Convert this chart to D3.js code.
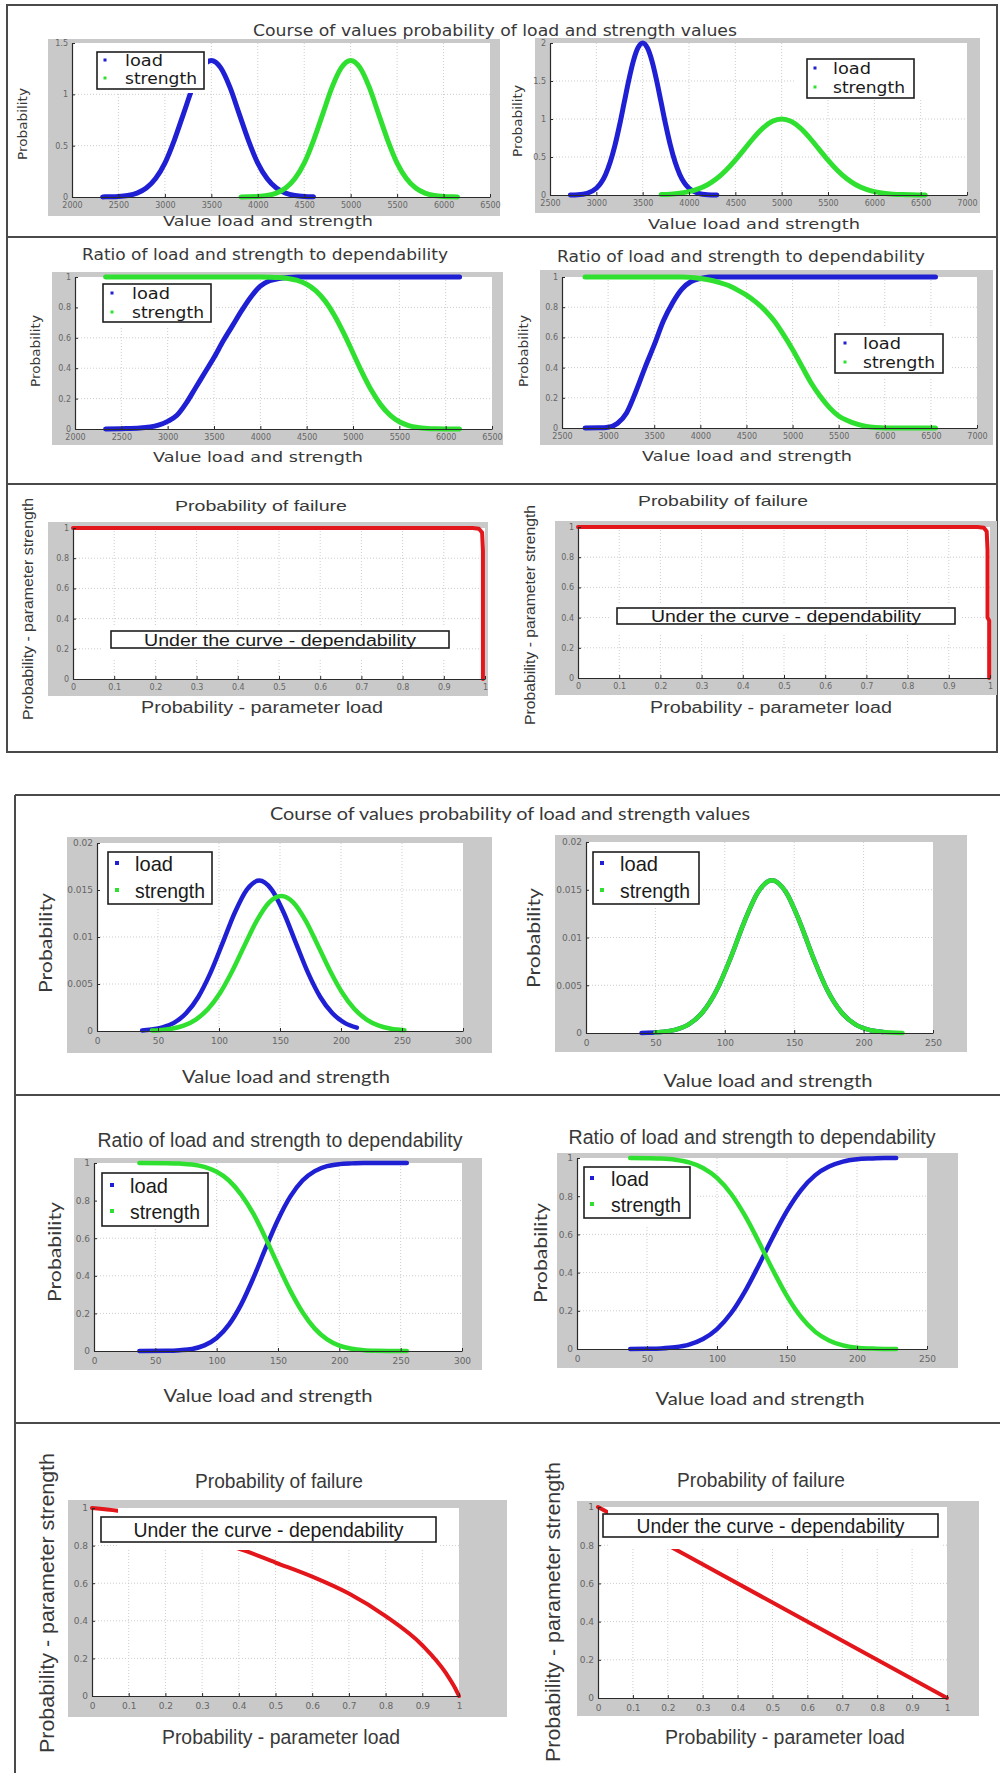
<!DOCTYPE html>
<html><head><meta charset="utf-8">
<script src="https://cdn.jsdelivr.net/npm/d3@7"></script>
<style>body{margin:0;background:#fff;} svg{display:block;}</style>
</head><body>
<svg id="chart" width="1000" height="1773"></svg>
<script>
// ---------------- DATA ----------------
const legendLabels = ["load", "strength"];

// Panel 1: density, case A (x 2000..6500)
const p1LoadX = [2330,2400,2500,2600,2700,2800,2900,3000,3100,3200,3300,3400,3500,3600,3700,3800,3900,4000,4100,4200,4300,4400,4500,4600];
const p1LoadY = [0.001,0.002,0.005,0.015,0.038,0.087,0.18,0.33,0.55,0.81,1.07,1.26,1.33,1.26,1.07,0.81,0.55,0.33,0.18,0.087,0.038,0.015,0.005,0.002];
const p1StrX = [3820,3900,4000,4100,4200,4300,4400,4500,4600,4700,4800,4900,5000,5100,5200,5300,5400,5500,5600,5700,5800,5900,6000,6100,6150];
const p1StrY = [0.001,0.002,0.005,0.015,0.038,0.087,0.18,0.33,0.55,0.81,1.07,1.26,1.33,1.26,1.07,0.81,0.55,0.33,0.18,0.087,0.038,0.015,0.005,0.002,0.001];

// Panel 2: density, case B (x 2500..7000)
const p2LoadX = [2720,2800,2900,3000,3050,3100,3150,3200,3250,3300,3350,3400,3450,3500,3550,3600,3650,3700,3750,3800,3850,3900,3950,4000,4100,4200,4300];
const p2LoadY = [0.001,0.004,0.022,0.088,0.159,0.271,0.433,0.649,0.916,1.213,1.51,1.765,1.938,2.0,1.938,1.765,1.51,1.213,0.916,0.649,0.433,0.271,0.159,0.088,0.022,0.004,0.001];
const p2StrX = [3700,3800,3900,4000,4100,4200,4300,4400,4500,4600,4700,4800,4900,5000,5100,5200,5300,5400,5500,5600,5700,5800,5900,6000,6100,6200,6300,6400,6500,6550];
const p2StrY = [0.005,0.011,0.023,0.044,0.080,0.135,0.216,0.325,0.458,0.607,0.755,0.882,0.969,1.0,0.969,0.882,0.755,0.607,0.458,0.325,0.216,0.135,0.080,0.044,0.023,0.011,0.005,0.002,0.001,0.0005];

// Panel 3: cumulative, case A
const p3LoadX = [2330,2500,2700,2900,3000,3100,3200,3300,3400,3500,3600,3700,3800,3900,4000,4100,4200,4300,4400,6150];
const p3LoadY = [0,0.002,0.006,0.025,0.05,0.09,0.17,0.27,0.37,0.47,0.58,0.68,0.78,0.87,0.94,0.975,0.99,0.997,1,1];
const p3StrX = [2330,4000,4100,4200,4300,4400,4500,4600,4700,4800,4900,5000,5100,5200,5300,5400,5500,5600,5700,5800,5900,6000,6150];
const p3StrY = [1,0.9996,0.9987,0.9962,0.9902,0.9772,0.9522,0.9088,0.8413,0.7475,0.6306,0.5,0.3694,0.2525,0.1587,0.0912,0.0478,0.0228,0.0098,0.0038,0.0013,0.0004,0];

// Panel 4: cumulative, case B
const p4LoadX = [2750,2900,3000,3100,3200,3300,3400,3500,3600,3700,3800,3900,4000,4100,6550];
const p4LoadY = [0,0.001,0.005,0.03,0.1,0.24,0.4,0.55,0.71,0.83,0.92,0.97,0.99,1,1];
const p4StrX = [2750,3800,4000,4100,4200,4300,4400,4500,4600,4700,4800,4900,5000,5100,5200,5300,5400,5500,5600,5700,5800,5900,6000,6550];
const p4StrY = [1,1,0.99,0.98,0.965,0.945,0.915,0.88,0.835,0.78,0.71,0.62,0.52,0.41,0.30,0.21,0.135,0.08,0.048,0.025,0.01,0.003,0,0];

// Panel 5 & 6: probability of failure (top block)
const p5X = [0,0.5,0.97,0.985,0.993,0.995,0.995];
const p5Y = [1,1,1,0.995,0.97,0.85,0];
const p6X = [0,0.5,0.97,0.985,0.992,0.994,0.994,0.998,0.998];
const p6Y = [1,1,1,0.995,0.97,0.85,0.4,0.38,0];

// Panel 7: density, case C (x 0..300)
const p7LoadX = [37,43,53,63,73,83,93,103,113,123,133,143,153,163,173,183,193,203,213];
const p7LoadY = [0.00006,0.00013,0.00036,0.00087,0.00188,0.00362,0.00618,0.00937,0.01261,0.01507,0.016,0.01507,0.01261,0.00937,0.00618,0.00362,0.00188,0.00087,0.00036];
const p7StrX = [45,51,61,71,81,91,101,111,121,131,141,151,161,171,181,191,201,211,221,231,241,252];
const p7StrY = [0.00005,0.00009,0.00024,0.00057,0.00122,0.00234,0.00407,0.00641,0.00912,0.01174,0.01366,0.01436,0.01366,0.01174,0.00912,0.00641,0.00407,0.00234,0.00122,0.00057,0.00024,0.00009];

// Panel 8: density, case D (x 0..250)
const p8LoadX = [40,44,54,64,74,84,94,104,114,124,134,144,154,164,174,184,194,204,214];
const p8LoadY = [0.00001,0.00002,0.0001,0.00032,0.0009,0.00217,0.00445,0.00779,0.01162,0.01477,0.016,0.01477,0.01162,0.00779,0.00445,0.00217,0.0009,0.00032,0.0001];
const p8StrX = [50,54,64,74,84,94,104,114,124,134,144,154,164,174,184,194,204,214,228];
const p8StrY = [0.00005,0.0001,0.00032,0.0009,0.00217,0.00445,0.00779,0.01162,0.01477,0.016,0.01477,0.01162,0.00779,0.00445,0.00217,0.0009,0.00032,0.0001,0.00001];

// Panel 9: cumulative, case C
const p9LoadX = [37,60,70,80,90,100,110,120,130,140,150,160,170,180,190,200,210,220,255];
const p9LoadY = [0,0.001,0.004,0.011,0.03,0.069,0.14,0.248,0.39,0.548,0.698,0.821,0.907,0.957,0.983,0.994,0.998,1,1];
const p9StrX = [37,60,70,80,90,100,110,120,130,140,150,160,170,180,190,200,210,220,230,240,255];
const p9StrY = [1,0.999,0.997,0.992,0.979,0.953,0.907,0.832,0.729,0.599,0.457,0.321,0.206,0.119,0.062,0.029,0.012,0.0045,0.0015,0.0004,0];

// Panel 10: cumulative, case D
const p10LoadX = [38,50,60,70,80,90,100,110,120,130,140,150,160,170,180,190,200,210,220,228];
const p10LoadY = [0,0.001,0.003,0.009,0.023,0.052,0.104,0.187,0.302,0.441,0.588,0.723,0.832,0.909,0.955,0.981,0.993,0.9975,1,1];
const p10StrX = [38,50,60,70,80,90,100,110,120,130,140,150,160,170,180,190,200,210,220,228];
const p10StrY = [1,0.999,0.997,0.991,0.977,0.948,0.896,0.813,0.698,0.559,0.412,0.277,0.168,0.091,0.045,0.019,0.007,0.0025,0,0];

// Panel 11 & 12: probability of failure (bottom block)
const p11X = [0,0.07,0.15,0.25,0.33,0.42,0.5,0.6,0.7,0.8,0.9,0.965,0.99,1];
const p11Y = [1,0.985,0.95,0.89,0.83,0.77,0.71,0.635,0.545,0.425,0.27,0.12,0.04,0];
const p12X = [0,0.25,0.5,0.75,1];
const p12Y = [1,0.75,0.5,0.25,0];

// Tick values
const xTicksA = [2000,2500,3000,3500,4000,4500,5000,5500,6000,6500];
const xTicksB = [2500,3000,3500,4000,4500,5000,5500,6000,6500,7000];
const yTicks15 = [0,0.5,1,1.5];
const yTicks2 = [0,0.5,1,1.5,2];
const yTicksCdf = [0,0.2,0.4,0.6,0.8,1];
const ticksProb = [0,0.1,0.2,0.3,0.4,0.5,0.6,0.7,0.8,0.9,1];
const xTicks300 = [0,50,100,150,200,250,300];
const xTicks250 = [0,50,100,150,200,250];
const yTicksPdf = [0,0.005,0.01,0.015,0.02];

// ---------------- DRAWING ----------------
const svg = d3.select("#chart");
const BLUE = "#1f1fd4", GREEN = "#30e030", RED = "#e3161b", GRAY = "#c9c9c9", INK = "#383838";
const FV = "'DejaVu Sans', Verdana, sans-serif";
const FA = "'Liberation Sans', Arial, sans-serif";
const FC = "Lato, 'Open Sans', sans-serif";

function txt(t) {
  const el = svg.append("text").text(t.s)
    .attr("font-family", t.f).attr("font-size", t.fs)
    .attr("fill", t.fill || INK)
    .attr("text-anchor", "middle").attr("dominant-baseline", "central");
  if (t.w) el.attr("textLength", t.w).attr("lengthAdjust", "spacingAndGlyphs");
  if (t.rot) el.attr("transform", `translate(${t.cx},${t.cy}) rotate(-90)`);
  else el.attr("x", t.cx).attr("y", t.cy);
  return el;
}

function rectOf(g, r, fill, stroke, sw) {
  return g.append("rect").attr("x", r[0]).attr("y", r[1])
    .attr("width", r[2] - r[0]).attr("height", r[3] - r[1])
    .attr("fill", fill).attr("stroke", stroke || "none").attr("stroke-width", sw || 0);
}

function drawPanel(p) {
  const g = svg.append("g");
  rectOf(g, p.gray, GRAY);
  const x = d3.scaleLinear().domain(p.xd).range(p.px);
  const y = d3.scaleLinear().domain(p.yd).range([p.py[1], p.py[0]]);
  rectOf(g, [p.px[0], p.py[0], p.px[1], p.py[1]], "#fff");

  // grid
  const grid = g.append("g").attr("stroke", "#cdcdcd").attr("stroke-width", 1).attr("stroke-dasharray", "1,2");
  grid.selectAll("line.v").data(p.xt.slice(1, -1)).join("line").attr("class", "v")
    .attr("x1", d => x(d)).attr("x2", d => x(d)).attr("y1", p.py[0]).attr("y2", p.py[1]);
  grid.selectAll("line.h").data(p.yt.slice(1, -1)).join("line").attr("class", "h")
    .attr("x1", p.px[0]).attr("x2", p.px[1]).attr("y1", d => y(d)).attr("y2", d => y(d));

  // legend background mask (under the curves unless it hides them in the original)
  if (p.mask && !p.maskAbove) rectOf(g, p.mask, "#fff");

  // series
  p.series.forEach(s => {
    const pts = s.x.map((v, i) => [v, s.y[i]]);
    g.append("path").datum(pts)
      .attr("d", d3.line().x(d => x(d[0])).y(d => y(d[1])).curve(s.curve || d3.curveMonotoneX))
      .attr("fill", "none").attr("stroke", s.c).attr("stroke-width", p.lw)
      .attr("stroke-linejoin", "round").attr("stroke-linecap", "round");
  });

  if (p.mask && p.maskAbove) rectOf(g, p.mask, "#fff");

  // axes
  const fmt = d3.format("~g");
  const ax = g.append("g").attr("transform", `translate(0,${p.py[1]})`)
    .call(d3.axisBottom(x).tickValues(p.xt).tickSizeInner(-3).tickSizeOuter(0).tickPadding(p.xpad).tickFormat(fmt));
  const ay = g.append("g").attr("transform", `translate(${p.px[0]},0)`)
    .call(d3.axisLeft(y).tickValues(p.yt).tickSizeInner(-3).tickSizeOuter(0).tickPadding(4).tickFormat(fmt));
  [ax, ay].forEach(a => {
    a.select(".domain").attr("stroke", "#2a2a2a").attr("stroke-width", 1.2);
    a.selectAll(".tick line").attr("stroke", "#2a2a2a");
    a.selectAll(".tick text").attr("fill", "#666").attr("font-size", p.tfs).attr("font-family", FV);
  });

  // legend
  if (p.legend) {
    const L = p.legend;
    rectOf(g, L.box, "#fff", "#1e1e1e", 1.6);
    [BLUE, GREEN].forEach((c, i) => {
      g.append("rect").attr("x", L.dotX - L.ds / 2).attr("y", L.rows[i] - L.ds / 2)
        .attr("width", L.ds).attr("height", L.ds).attr("fill", c);
      g.append("text").text(legendLabels[i]).attr("x", L.textX).attr("y", L.rows[i])
        .attr("dominant-baseline", "central").attr("font-family", L.f).attr("font-size", L.fs)
        .attr("fill", "#1a1a1a").attr("textLength", L.tl[i]).attr("lengthAdjust", "spacingAndGlyphs");
    });
  }
  // annotation box
  if (p.note) {
    const N = p.note;
    rectOf(g, N.box, "#fff", "#1e1e1e", 1.6);
    txt({s: "Under the curve - dependability", cx: (N.box[0] + N.box[2]) / 2, cy: (N.box[1] + N.box[3]) / 2 + 0.5,
         fs: N.fs, w: N.w, f: FA, fill: "#1a1a1a"});
  }
  (p.texts || []).forEach(txt);
}

// frames
const frames = svg.append("g").attr("stroke", "#4a4a4a").attr("stroke-width", 2).attr("fill", "none");
frames.append("rect").attr("x", 7).attr("y", 5).attr("width", 990).attr("height", 747);
[237, 484].forEach(yy => frames.append("line").attr("x1", 7).attr("x2", 997).attr("y1", yy).attr("y2", yy));
frames.append("line").attr("x1", 15).attr("x2", 15).attr("y1", 795).attr("y2", 1773);
[795, 1095, 1423].forEach(yy => frames.append("line").attr("x1", 15).attr("x2", 1000).attr("y1", yy).attr("y2", yy));

const VAL = "Value load and strength", PROB = "Probability";
const RATIO = "Ratio of load and strength to dependability", FAIL = "Probability of failure";
const PLOAD = "Probability - parameter load", PSTR = "Probability - parameter strength";

const topLeg = (box, dotX, textX, rows) => ({box, dotX, textX, rows, fs: 16, f: FV, tl: [38, 72], ds: 3});
const botLeg = (box, dotX, textX, rows) => ({box, dotX, textX, rows, fs: 21, f: FA, tl: [38, 70], ds: 4});

const panels = [
  {gray:[48,39,500,216], px:[72,490], py:[43,197], xd:[2000,6500], yd:[0,1.5], xt:xTicksA, yt:yTicks15,
   lw:5, tfs:8, xpad:5, mask:[73,43,208,93], maskAbove:true,
   series:[{x:p1LoadX,y:p1LoadY,c:BLUE},{x:p1StrX,y:p1StrY,c:GREEN}],
   legend: topLeg([97,52,204,89],105,125,[60,78]),
   texts:[{s:VAL,cx:268,cy:221,fs:14,w:210,f:FV},{s:PROB,cx:22,cy:124,fs:13,w:72,f:FV,rot:1}]},
  {gray:[535,38,980,213], px:[550,967], py:[43,195], xd:[2500,7000], yd:[0,2], xt:xTicksB, yt:yTicks2,
   lw:5, tfs:8, xpad:5, mask:[795,43,967,100],
   series:[{x:p2LoadX,y:p2LoadY,c:BLUE},{x:p2StrX,y:p2StrY,c:GREEN}],
   legend: topLeg([807,59,914,98],815,833,[68,87]),
   texts:[{s:VAL,cx:754,cy:224,fs:14,w:212,f:FV},{s:PROB,cx:517,cy:121,fs:13,w:72,f:FV,rot:1}]},
  {gray:[52,272,503,445], px:[75,492], py:[277,429], xd:[2000,6500], yd:[0,1], xt:xTicksA, yt:yTicksCdf,
   lw:5, tfs:8, xpad:5, mask:[76,278,215,327],
   series:[{x:p3LoadX,y:p3LoadY,c:BLUE},{x:p3StrX,y:p3StrY,c:GREEN}],
   legend: topLeg([103,284,211,322],112,132,[293,312]),
   texts:[{s:RATIO,cx:265,cy:255,fs:15,w:366,f:FV},{s:VAL,cx:258,cy:457,fs:14,w:210,f:FV},
          {s:PROB,cx:35,cy:351,fs:13,w:72,f:FV,rot:1}]},
  {gray:[540,270,993,445], px:[562,977], py:[277,428], xd:[2500,7000], yd:[0,1], xt:xTicksB, yt:yTicksCdf,
   lw:5, tfs:8, xpad:5, mask:[828,328,950,378],
   series:[{x:p4LoadX,y:p4LoadY,c:BLUE},{x:p4StrX,y:p4StrY,c:GREEN}],
   legend: topLeg([835,334,943,373],845,863,[343,362]),
   texts:[{s:RATIO,cx:741,cy:257,fs:15,w:368,f:FV},{s:VAL,cx:747,cy:456,fs:14,w:210,f:FV},
          {s:PROB,cx:523,cy:351,fs:13,w:72,f:FV,rot:1}]},
  {gray:[48,522,488,696], px:[73,485], py:[528,679], xd:[0,1], yd:[0,1], xt:ticksProb, yt:yTicksCdf,
   lw:4, tfs:8, xpad:5, mask:[103,627,457,658],
   series:[{x:p5X,y:p5Y,c:RED,curve:d3.curveLinear}],
   note:{box:[111,631,449,648], fs:16, w:272},
   texts:[{s:FAIL,cx:261,cy:505,fs:15,w:172,f:FA},{s:PLOAD,cx:262,cy:707,fs:16,w:242,f:FA},
          {s:PSTR,cx:27,cy:609,fs:15,w:222,f:FA,rot:1}]},
  {gray:[555,521,997,695], px:[578,990], py:[527,678], xd:[0,1], yd:[0,1], xt:ticksProb, yt:yTicksCdf,
   lw:4, tfs:8, xpad:5, mask:[610,604,962,634],
   series:[{x:p6X,y:p6Y,c:RED,curve:d3.curveLinear}],
   note:{box:[617,608,955,624], fs:16, w:270},
   texts:[{s:FAIL,cx:723,cy:500,fs:15,w:170,f:FA},{s:PLOAD,cx:771,cy:707,fs:16,w:242,f:FA},
          {s:PSTR,cx:529,cy:615,fs:15,w:220,f:FA,rot:1}]},
  {gray:[67,837,492,1053], px:[97,463], py:[843,1031], xd:[0,300], yd:[0,0.02], xt:xTicks300, yt:yTicksPdf,
   lw:4.5, tfs:9, xpad:7, mask:[98,843,215,908],
   series:[{x:p7LoadX,y:p7LoadY,c:BLUE},{x:p7StrX,y:p7StrY,c:GREEN}],
   legend: botLeg([108,852,212,904],117,135,[863,890]),
   texts:[{s:VAL,cx:286,cy:1076,fs:18,w:208,f:FC},{s:PROB,cx:45,cy:943,fs:18,w:100,f:FC,rot:1}]},
  {gray:[555,835,967,1052], px:[586,933], py:[842,1033], xd:[0,250], yd:[0,0.02], xt:xTicks250, yt:yTicksPdf,
   lw:4.5, tfs:9, xpad:7, mask:[587,842,702,908],
   series:[{x:p8LoadX,y:p8LoadY,c:BLUE},{x:p8StrX,y:p8StrY,c:GREEN}],
   legend: botLeg([593,852,699,904],602,620,[863,890]),
   texts:[{s:VAL,cx:768,cy:1080,fs:18,w:209,f:FC},{s:PROB,cx:533,cy:938,fs:18,w:100,f:FC,rot:1}]},
  {gray:[74,1158,482,1370], px:[94,462], py:[1163,1351], xd:[0,300], yd:[0,1], xt:xTicks300, yt:yTicksCdf,
   lw:4.5, tfs:9, xpad:7, mask:[95,1164,212,1229],
   series:[{x:p9LoadX,y:p9LoadY,c:BLUE},{x:p9StrX,y:p9StrY,c:GREEN}],
   legend: botLeg([102,1173,208,1226],112,130,[1185,1211]),
   texts:[{s:RATIO,cx:280,cy:1140,fs:20,w:365,f:FA},{s:VAL,cx:268,cy:1395,fs:18,w:209,f:FC},
          {s:PROB,cx:54,cy:1252,fs:18,w:100,f:FC,rot:1}]},
  {gray:[557,1153,958,1368], px:[577,927], py:[1158,1349], xd:[0,250], yd:[0,1], xt:xTicks250, yt:yTicksCdf,
   lw:4.5, tfs:9, xpad:7, mask:[578,1159,695,1225],
   series:[{x:p10LoadX,y:p10LoadY,c:BLUE},{x:p10StrX,y:p10StrY,c:GREEN}],
   legend: botLeg([584,1167,690,1218],592,611,[1178,1204]),
   texts:[{s:RATIO,cx:752,cy:1137,fs:20,w:367,f:FA},{s:VAL,cx:760,cy:1398,fs:18,w:209,f:FC},
          {s:PROB,cx:540,cy:1253,fs:18,w:100,f:FC,rot:1}]},
  {gray:[68,1500,507,1717], px:[92,459], py:[1508,1696], xd:[0,1], yd:[0,1], xt:ticksProb, yt:yTicksCdf,
   lw:4, tfs:9, xpad:7, mask:[118,1508,440,1550], maskAbove:true,
   series:[{x:p11X,y:p11Y,c:RED}],
   note:{box:[101,1517,436,1542], fs:20, w:270},
   texts:[{s:FAIL,cx:279,cy:1481,fs:20,w:168,f:FA},{s:PLOAD,cx:281,cy:1737,fs:20,w:238,f:FA},
          {s:PSTR,cx:47,cy:1603,fs:20,w:300,f:FA,rot:1}]},
  {gray:[577,1501,979,1716], px:[598,947], py:[1507,1698], xd:[0,1], yd:[0,1], xt:ticksProb, yt:yTicksCdf,
   lw:4, tfs:9, xpad:7, mask:[608,1507,941,1549], maskAbove:true,
   series:[{x:p12X,y:p12Y,c:RED,curve:d3.curveLinear}],
   note:{box:[603,1514,938,1537], fs:20, w:268},
   texts:[{s:FAIL,cx:761,cy:1480,fs:20,w:168,f:FA},{s:PLOAD,cx:785,cy:1737,fs:20,w:240,f:FA},
          {s:PSTR,cx:553,cy:1612,fs:20,w:300,f:FA,rot:1}]}
];

panels.forEach(drawPanel);

// block titles
txt({s: "Course of values probability of load and strength values", cx: 495, cy: 31, fs: 15, w: 484, f: FV});
txt({s: "Course of values probability of load and strength values", cx: 510, cy: 813, fs: 18, w: 480, f: FC});
</script>
</body></html>
